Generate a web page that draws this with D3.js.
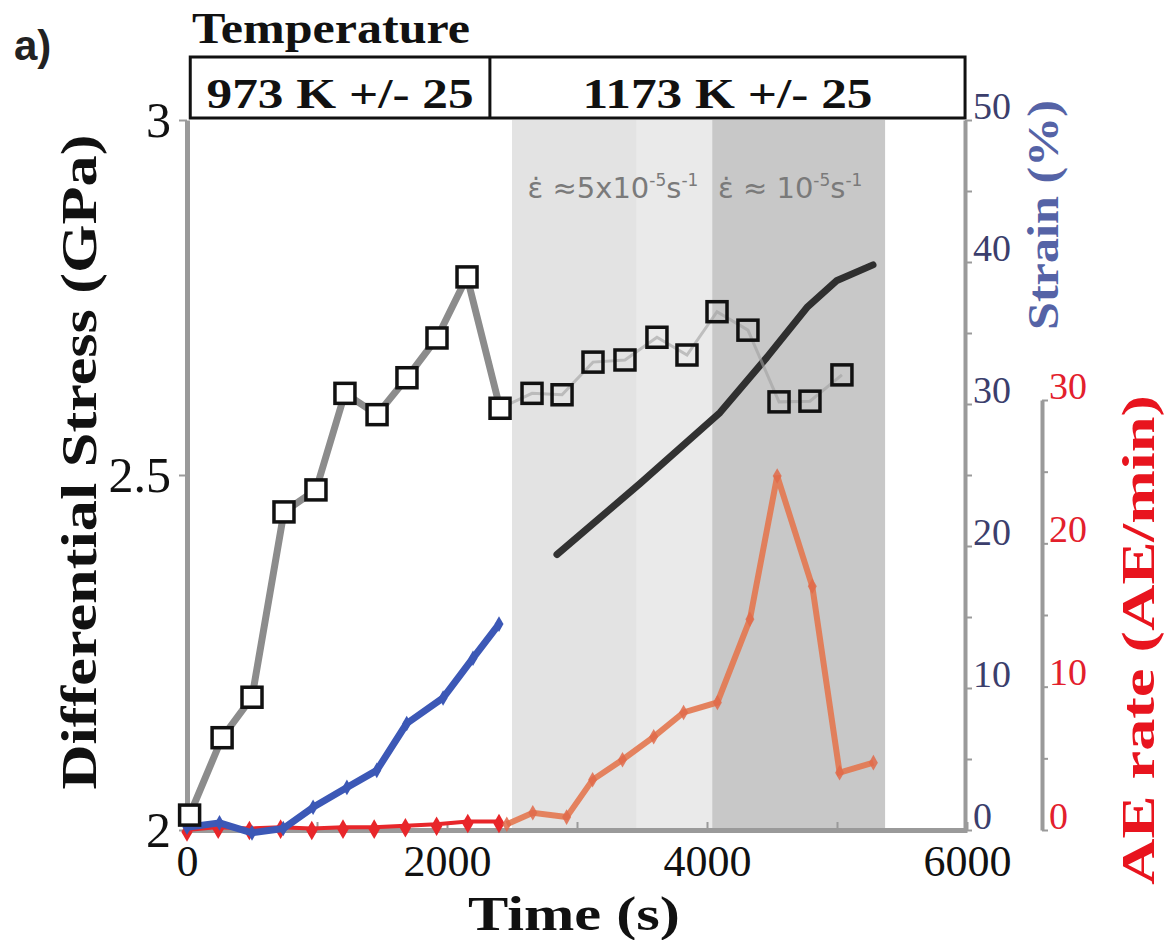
<!DOCTYPE html>
<html><head><meta charset="utf-8">
<script src="https://cdn.jsdelivr.net/npm/d3@7"></script>
<style>body{margin:0;background:#fff}text{font-family:"Liberation Serif","Times New Roman",serif}</style>
</head><body>
<svg id="c" width="1167" height="940"></svg>
<script>
// ---------- data ----------
const stressTime = [20,270,500,746,992,1215,1462,1692,1923,2154,2408,2654,2885,3123,3369,3615,3846,4077,4315,4554,4792,5038];
const stressGPa  = [2.021,2.130,2.187,2.448,2.479,2.615,2.585,2.637,2.693,2.779,2.594,2.615,2.613,2.659,2.662,2.694,2.669,2.730,2.704,2.603,2.604,2.641];

const strainTime1 = [0,250,500,740,970,1230,1460,1690,1970,2200,2400];
const strain1     = [0.2,0.5,-0.2,0.1,1.6,3.0,4.2,7.5,9.3,12.1,14.5];
const strainTime2 = [2846,3485,4100,4462,4769,5000,5277];
const strain2     = [19.4,24.4,29.4,33.3,36.8,38.7,39.8];

const aeTime1 = [0,240,480,720,960,1200,1440,1680,1920,2160,2400];
const ae1     = [0.0,0.2,0.1,0.2,0.1,0.2,0.2,0.3,0.4,0.6,0.6];
const aeTime2 = [2460,2660,2920,3120,3350,3590,3820,4080,4330,4540,4810,5020,5280];
const ae2     = [0.4,1.2,0.9,3.5,4.9,6.5,8.2,8.9,14.7,24.7,17.0,4.0,4.7];

const xTicks = [0,1000,2000,3000,4000,5000,6000];
const xLabels = [0,2000,4000,6000];
const stressTicks = [2,2.5,3];
const strainTicks = [0,5,10,15,20,25,30,35,40,45,50];
const aeTicks = [0,5,10,15,20,25,30];

const tempBounds = [25,2330,5985];
const tempLabels = ["973 K +/- 25","1173 K +/- 25"];
const bandStart = [2500,3460,4040];
const bandEnd   = [3460,4040,5370];
const rateTime  = [2620,4085];

// ---------- scales ----------
const svg = d3.select("#c");
const x  = d3.scaleLinear().domain([0,6000]).range([187,967]);
const yS = d3.scaleLinear().domain([2,3]).range([830,120]);
const yE = d3.scaleLinear().domain([0,50]).range([830,120]);
const yA = d3.scaleLinear().domain([0,30]).range([830,400]);

const bandColors = ["#e3e3e3","#eaeaea","#c8c8c8"];
svg.selectAll("rect.band").data(bandStart).join("rect")
  .attr("x",(d)=>x(d)).attr("width",(d,i)=>x(bandEnd[i])-x(d))
  .attr("y",yS(3)).attr("height",yS(2)-yS(3))
  .attr("fill",(d,i)=>bandColors[i]);

// rate labels
const rl = svg.selectAll("text.rate").data(rateTime).join("text")
  .attr("x",d=>x(d)).attr("y",198)
  .style("font-family","'DejaVu Sans',sans-serif").style("font-size","29px").attr("fill","#7a7a7a");
function rateText(sel, pre, exp1){
  sel.append("tspan").text(pre);
  sel.append("tspan").attr("dy",-12).style("font-size","17px").text(exp1);
  sel.append("tspan").attr("dy",12).text("s");
  sel.append("tspan").attr("dy",-12).style("font-size","17px").text("-1");
}
rateText(d3.select(rl.nodes()[0]), "\u03B5\u0307 \u22485x10", "-5");
rateText(d3.select(rl.nodes()[1]), "\u03B5\u0307 \u2248 10", "-5");

// temperature box
svg.append("rect").attr("x",x(tempBounds[0])).attr("y",57)
  .attr("width",x(tempBounds[2])-x(tempBounds[0])).attr("height",61)
  .attr("fill","none").attr("stroke","#111").attr("stroke-width",3);
svg.append("line").attr("x1",x(tempBounds[1])).attr("x2",x(tempBounds[1]))
  .attr("y1",57).attr("y2",118).attr("stroke","#111").attr("stroke-width",3);
svg.selectAll("text.temp").data(tempLabels).join("text")
  .attr("x",(d,i)=>(x(tempBounds[i])+x(tempBounds[i+1]))/2).attr("y",108)
  .attr("text-anchor","middle").style("font-weight","bold").style("font-size","42px").attr("fill","#111")
  .attr("textLength",(d,i)=>i?290:267).attr("lengthAdjust","spacingAndGlyphs")
  .text(d=>d);
svg.append("text").attr("x",192).attr("y",43).style("font-weight","bold").style("font-size","44px")
  .attr("fill","#111").attr("textLength",278).attr("lengthAdjust","spacingAndGlyphs").text("Temperature");
svg.append("text").attr("x",14).attr("y",60).style("font-family","'Liberation Sans',Arial,sans-serif")
  .style("font-weight","bold").style("font-size","42px").attr("fill","#222").text("a)");

// ---------- axes ----------
const axisColor = "#9a9a9a";
function styleAxis(g, w, fs, col){
  g.select(".domain").attr("stroke",axisColor).attr("stroke-width",w);
  g.selectAll(".tick line").attr("stroke",axisColor).attr("stroke-width",2);
  g.selectAll(".tick text").style("font-size",fs+"px").style("font-family","'Liberation Serif',serif").attr("fill",col);
}
const gx = svg.append("g").attr("transform","translate(0,830)")
  .call(d3.axisBottom(x).tickValues(xTicks).tickSize(-8).tickSizeOuter(0).tickPadding(15)
    .tickFormat(d=>xLabels.includes(d)?d:""));
styleAxis(gx,5,44,"#111");

const gl = svg.append("g").attr("transform","translate(187,0)")
  .call(d3.axisLeft(yS).tickValues(stressTicks).tickSize(8).tickSizeOuter(0).tickPadding(8)
    .tickFormat(d=>d));
styleAxis(gl,5,50,"#111");

const ge = svg.append("g").attr("transform","translate(965,0)")
  .call(d3.axisRight(yE).tickValues(strainTicks).tickSize(7).tickSizeOuter(0).tickPadding(1)
    .tickFormat(d=>d%10===0?d:""));
styleAxis(ge,4,38,"#3b3e6c");
ge.selectAll(".tick text").attr("dy","-0.05em");

const ga = svg.append("g").attr("transform","translate(1042,0)")
  .call(d3.axisRight(yA).tickValues(aeTicks).tickSize(6).tickSizeOuter(0).tickPadding(1)
    .tickFormat(d=>d%10===0?d:""));
styleAxis(ga,4,38,"#e3202c");
ga.selectAll(".tick text").attr("dy","-0.05em");

// axis titles
svg.append("text").attr("transform","translate(96,462) rotate(-90)").attr("text-anchor","middle")
  .style("font-weight","bold").style("font-size","50px").attr("fill","#111")
  .attr("textLength",655).attr("lengthAdjust","spacingAndGlyphs").text("Differential Stress (GPa)");
svg.append("text").attr("x",574).attr("y",930).attr("text-anchor","middle")
  .style("font-weight","bold").style("font-size","49px").attr("fill","#111")
  .attr("textLength",212).attr("lengthAdjust","spacingAndGlyphs").text("Time (s)");
svg.append("text").attr("transform","translate(1058,215) rotate(-90)").attr("text-anchor","middle")
  .style("font-weight","bold").style("font-size","44px").attr("fill","#5563a6")
  .attr("textLength",230).attr("lengthAdjust","spacingAndGlyphs").text("Strain (%)");
svg.append("text").attr("transform","translate(1154,640) rotate(-90)").attr("text-anchor","middle")
  .style("font-weight","bold").style("font-size","46px").attr("fill","#e8141e")
  .attr("textLength",490).attr("lengthAdjust","spacingAndGlyphs").text("AE rate (AE/min)");

// ---------- series ----------
const line = (xs, ys, yScale) => d3.line().x((d,i)=>x(xs[i])).y((d,i)=>yScale(ys[i]))(ys);
const diamond = d3.symbol().type(d3.symbolDiamond);

// AE early (red)
svg.append("path").attr("d",line(aeTime1,ae1,yA)).attr("fill","none").attr("stroke","#e8262a").attr("stroke-width",4);
svg.selectAll("path.aed").data(ae1).join("path")
  .attr("transform",(d,i)=>`translate(${x(aeTime1[i])},${yA(d)+2})`)
  .attr("d",diamond.size(110)()).attr("fill","#e8262a");
// AE late (orange)
svg.append("path").attr("d",line(aeTime2,ae2,yA)).attr("fill","none").attr("stroke","#e3774f").attr("stroke-width",6).attr("opacity",0.9);
svg.selectAll("path.aed2").data(ae2).join("path")
  .attr("transform",(d,i)=>`translate(${x(aeTime2[i])},${yA(d)})`)
  .attr("d",diamond.size(70)()).attr("fill","#e06a4a").attr("opacity",0.85);

// strain early (blue)
svg.append("path").attr("d",line(strainTime1,strain1,yE)).attr("fill","none").attr("stroke","#3c58b6").attr("stroke-width",7).attr("stroke-linejoin","round");
svg.selectAll("path.sd").data(strain1).join("path")
  .attr("transform",(d,i)=>`translate(${x(strainTime1[i])},${yE(d)})`)
  .attr("d",diamond.size(70)()).attr("fill","#3c58b6");
// strain late (black)
svg.append("path").attr("d",line(strainTime2,strain2,yE))
  .attr("fill","none").attr("stroke","#1e1e1e").attr("stroke-width",7).attr("stroke-linecap","round")
  .attr("stroke-linejoin","round").attr("opacity",0.9);

// stress
const split = 10;
svg.append("path").attr("d",line(stressTime.slice(0,split+1),stressGPa.slice(0,split+1),yS))
  .attr("fill","none").attr("stroke","#8c8c8c").attr("stroke-width",7);
svg.append("path").attr("d",line(stressTime.slice(split),stressGPa.slice(split),yS))
  .attr("fill","none").attr("stroke","#a0a0a0").attr("stroke-width",3).attr("opacity",0.6);
svg.selectAll("rect.sq").data(stressGPa).join("rect")
  .attr("x",(d,i)=>x(stressTime[i])-10).attr("y",d=>yS(d)-10)
  .attr("width",20).attr("height",20)
  .attr("fill",(d,i)=>stressTime[i]<2500?"#fff":"none")
  .attr("stroke","#111").attr("stroke-width",3.5);
</script>
</body></html>
